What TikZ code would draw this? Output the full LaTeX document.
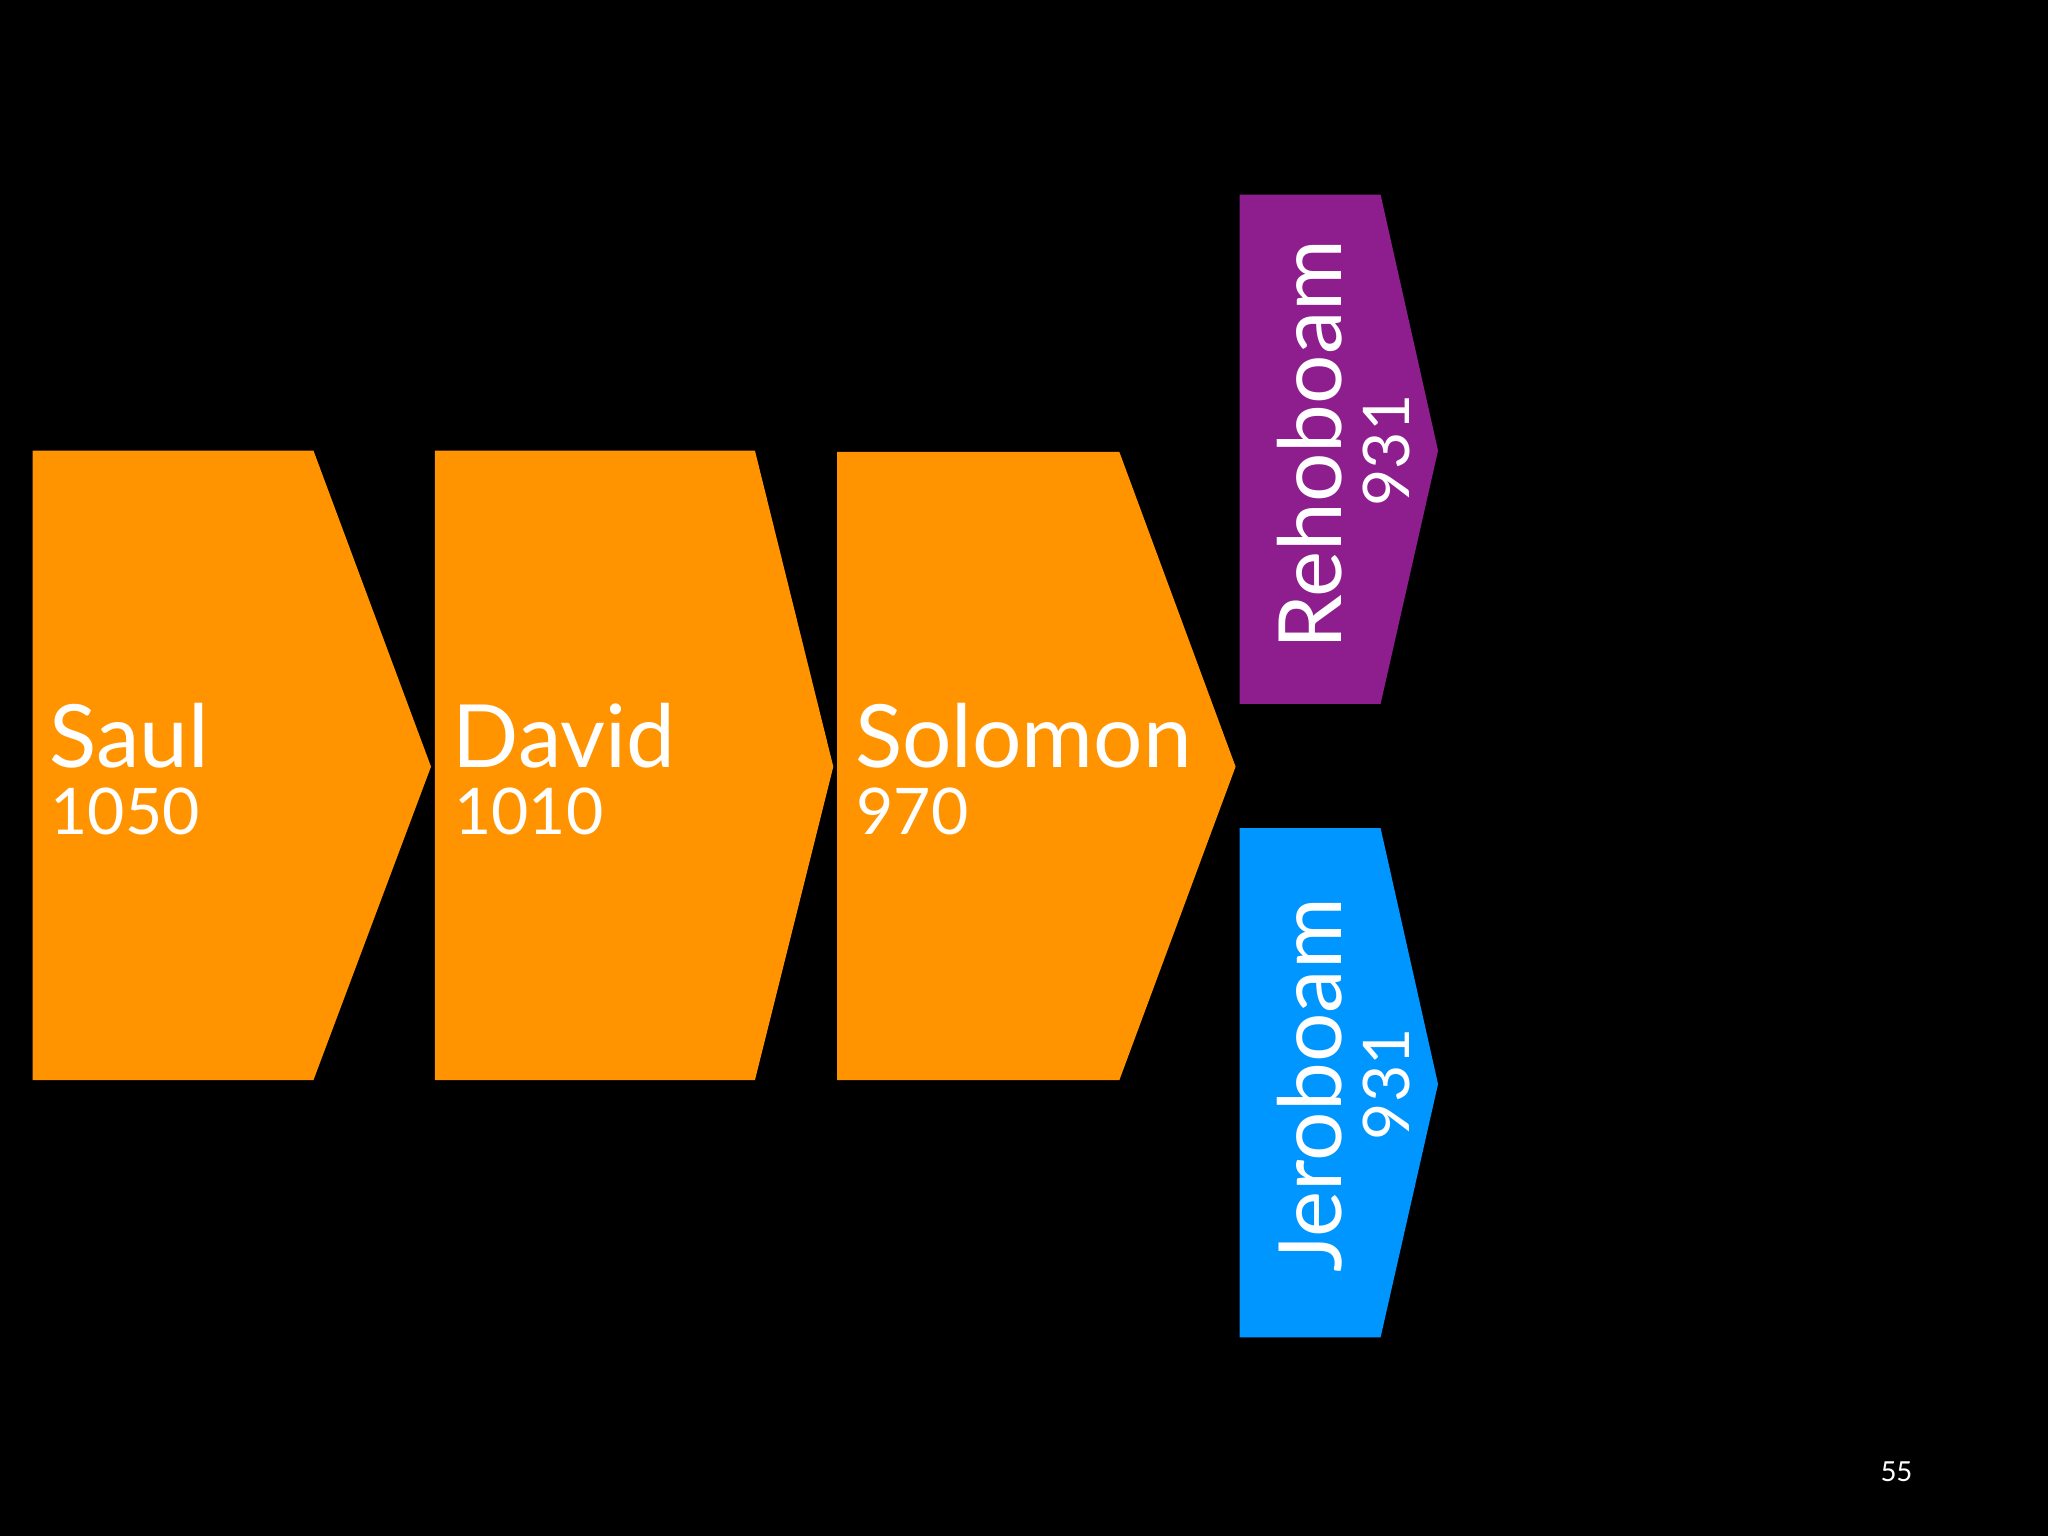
\documentclass[tikz,border=0pt]{standalone}
\usepackage{fontspec}
\setmainfont{Lato}
\definecolor{org}{HTML}{FF9400}
\definecolor{pur}{HTML}{8E1E8E}
\definecolor{blu}{HTML}{0096FF}
\begin{document}
\begin{tikzpicture}[x=0.01cm,y=-0.01cm,
  kname/.style={text=white,font=\fontsize{19}{21}\selectfont,anchor=base west,inner sep=0},
  kyr/.style={text=white,font=\fontsize{14}{16}\selectfont,anchor=base west,inner sep=0}]
\fill[black] (0,0) rectangle (1568,1176);
\useasboundingbox (0,0) rectangle (1568,1176);
\fill[org] (25,345) -- (240,345) -- (330,587) -- (240,827) -- (25,827) -- cycle;
\fill[org] (333,345) -- (578,345) -- (638,587) -- (578,827) -- (333,827) -- cycle;
\fill[org] (641,346) -- (857,346) -- (946,587) -- (857,827) -- (641,827) -- cycle;
\fill[pur] (949,149) -- (1057,149) -- (1101,345) -- (1057,539) -- (949,539) -- cycle;
\fill[blu] (949,634) -- (1057,634) -- (1101,830) -- (1057,1024) -- (949,1024) -- cycle;
\node[kname] (saul) at (37,588) {Saul};
\node[kyr] (sauly) at (38,639) {1050};
\node[kname] (david) at (346,588) {David};
\node[kyr] (davidy) at (347,639) {1010};
\node[kname] (sol) at (654,588) {Solomon};
\node[kyr] (soly) at (655,639) {970};
\node[kname,rotate=90] (reh) at (1027,498) {Rehoboam};
\node[kyr,rotate=90,anchor=base] (rehy) at (1079,345) {931};
\node[kname,rotate=90] (jer) at (1027,975) {Jeroboam};
\node[kyr,rotate=90,anchor=base] (jery) at (1079,830) {931};
\node[text=white,font=\fontsize{6}{7}\selectfont] (pg) at (1452,1127) {55};
\end{tikzpicture}
\end{document}
